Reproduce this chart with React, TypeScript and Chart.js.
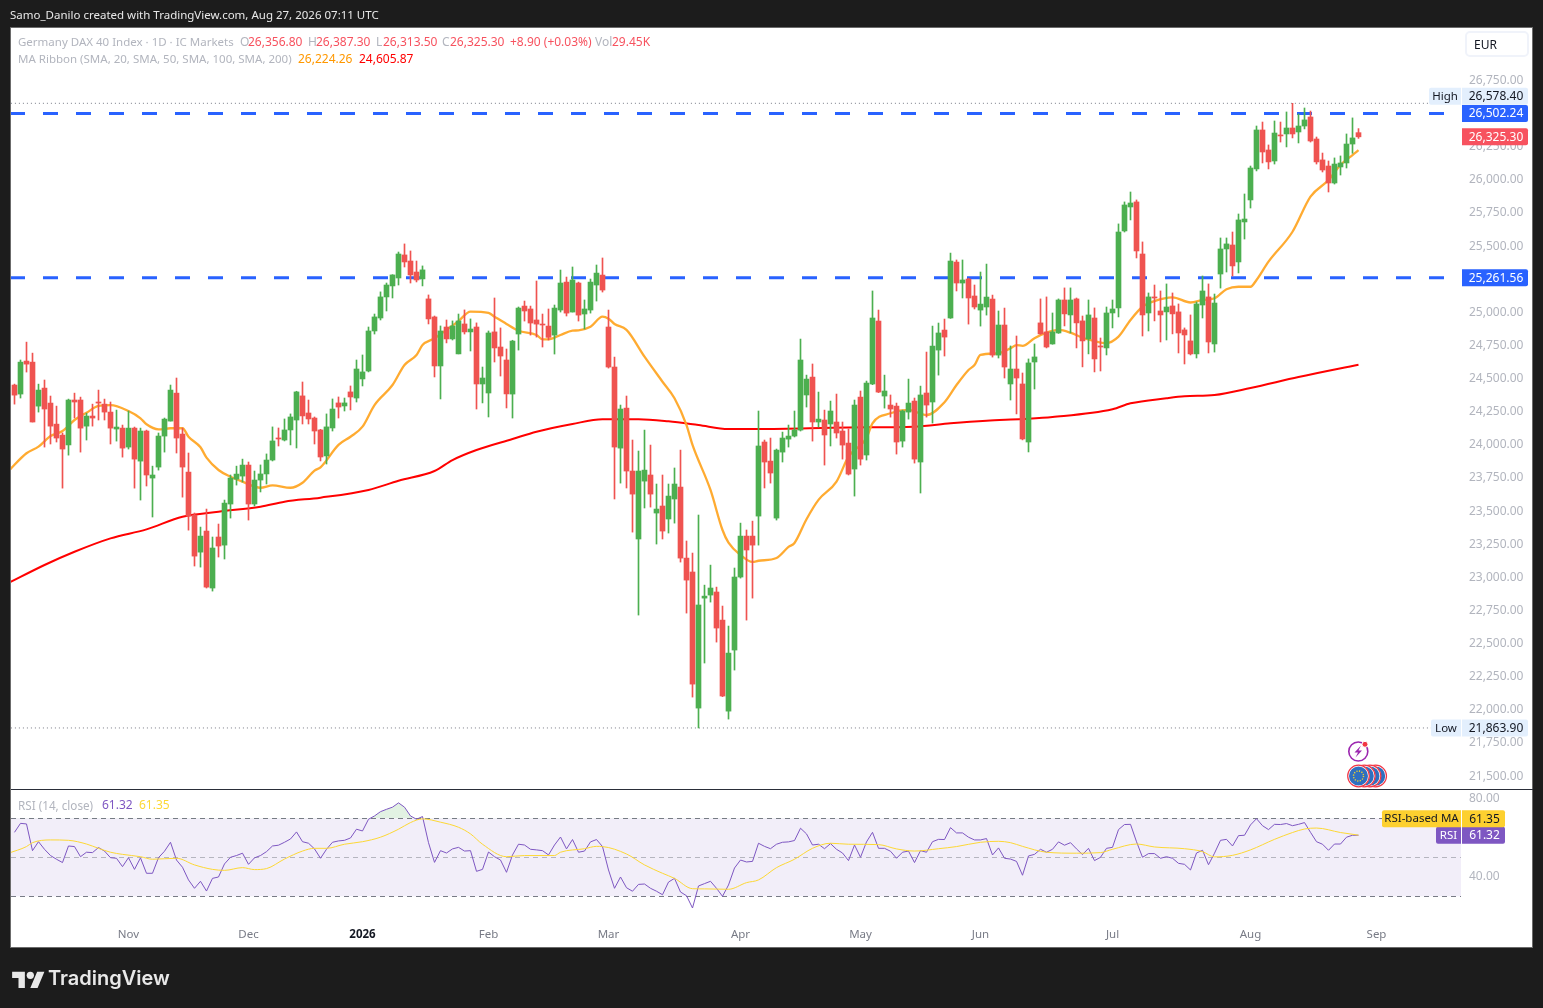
import React, { useEffect, useRef } from "react";
import { Chart, registerables } from "chart.js";

Chart.register(...registerables);

const opens = [
24452,24384,24633,24625,24293,24429,24316,24157,24074,24000,
24339,24339,24142,24218,24324,24308,24248,24120,24127,23984,
24127,23878,24105,23750,23833,24067,24180,24391,24082,23795,
23471,23191,23350,22920,23305,23244,23554,23742,23765,23848,
23554,23735,23781,23886,24052,24037,24113,24188,24370,24241,
24203,24113,23917,24128,24317,24294,24400,24354,24498,24558,
24860,24958,25117,25200,25260,25434,25388,25305,25253,25102,
24966,24596,24890,24800,24687,24913,24853,24890,24460,24392,
24853,24739,24641,24384,24837,25048,25026,24943,24912,24897,
24829,25018,25229,25003,25222,24988,25018,25207,25282,24890,
24588,23976,24278,23803,23290,23727,23773,23486,23539,23441,
23592,23682,23146,23041,22014,22844,22867,22890,22678,21991,
22452,23003,23312,23312,23463,24022,23878,23448,23946,24044,
24067,24112,24377,24512,24173,24188,24158,24173,24105,24014,
23818,24361,23924,24460,24935,24369,24301,24293,24029,24248,
24331,23871,24392,24324,24716,24867,24958,25380,25222,25252,
25124,25018,25041,25101,24678,24905,24460,24573,24460,24022,
24626,24921,24853,24762,24845,25094,24981,25102,24936,24800,
24958,24747,24732,24996,25034,25615,25796,25834,25441,24996,
25117,25011,25004,25049,25004,24868,24785,24687,25056,25117,
24762,25290,25479,25509,25381,25683,25849,26083,26377,26226,
26143,26339,26347,26392,26362,26407,26475,26309,26151,26105,
25977,26098,26128,26271,26356.8];

const highs = [
24459,24641,24776,24693,24459,24490,24369,24293,24090,24346,
24391,24361,24240,24308,24414,24346,24324,24263,24150,24256,
24135,24127,24112,23840,24090,24203,24452,24505,24127,23939,
23486,23380,23516,23305,23403,23584,23773,23840,23893,23871,
23803,23849,23932,24136,24128,24196,24234,24405,24475,24339,
24211,24118,24234,24347,24362,24354,24445,24641,24679,24890,
24988,25155,25222,25285,25456,25517,25464,25388,25351,25132,
24973,24898,24943,24936,24988,25019,24951,24921,24588,24860,
25109,24883,24724,24790,25041,25086,25048,25237,24988,25026,
25056,25320,25267,25343,25229,25094,25252,25358,25411,25018,
24663,24301,24369,24037,23954,24112,23999,23705,23773,23705,
23826,23961,23275,23184,23471,22942,23093,22927,22784,22633,
23071,23410,23358,23425,24256,24037,24052,23969,24097,24150,
24256,24799,24527,24611,24399,24263,24331,24384,24173,24120,
24339,24407,24482,25162,25018,24527,24377,24316,24263,24497,
24354,24444,24701,24897,24920,24950,25448,25396,25396,25258,
25207,25305,25365,25131,25011,25033,24747,24822,24543,24649,
24762,25102,25117,24996,25102,25185,25185,25109,24973,25094,
25034,24807,25041,25094,25668,25834,25909,25849,25532,25147,
25207,25162,25215,25147,25064,24883,24981,25079,25275,25215,
25139,25562,25562,25607,25743,25894,26105,26407,26437,26264,
26445,26437,26513,26578.4,26498,26543,26520,26324,26203,26143,
26166,26181,26347,26468,26387.3];

const lows = [
24308,24354,24550,24173,24248,23984,24007,24022,23674,23923,
24203,23946,24037,24142,24188,24188,24007,24029,23908,23969,
23674,23584,23690,23456,23810,23946,24180,23939,23606,23357,
23086,23078,22920,22897,23154,23139,23448,23697,23720,23433,
23539,23645,23705,23879,23992,24030,24000,23977,24158,24158,
24007,23879,23856,24105,24203,24256,24264,24324,24445,24551,
24837,24943,25011,25109,25207,25343,25222,25230,25200,24913,
24513,24347,24770,24792,24687,24837,24709,24271,24317,24211,
24626,24520,24279,24203,24716,24935,24829,24814,24739,24792,
24686,25003,24973,25003,24935,24875,24995,25086,25154,24580,
23592,23712,23675,23342,22716,23524,23531,23252,23290,23335,
23410,23116,22731,22097,21863.9,22354,22814,22512,22100,21931,
22301,22995,22678,22844,23244,23675,23712,23433,23871,23984,
24060,24105,24286,24029,24135,23848,23992,24052,23893,23773,
23614,23848,23886,24455,24395,24278,24210,23931,23984,24195,
23863,23637,24210,24165,24527,24671,24955,25162,25109,24912,
25026,24897,24980,24663,24656,24505,24339,24234,24038,23947,
24422,24835,24732,24760,24842,24898,24845,24732,24589,24687,
24551,24558,24679,24883,24966,25607,25698,25411,24822,24860,
24936,24777,24792,24838,24694,24611,24679,24656,24958,24694,
24701,25184,25305,25275,25298,25554,25788,26068,26128,26083,
26120,26286,26249,26317,26279,26385,26286,26120,26060,25909,
25969,26037,26090,26201,26313.5];

const closes = [
24376,24625,24610,24173,24414,24271,24142,24052,23969,24339,
24324,24127,24218,24203,24316,24248,24127,24135,23976,24127,
23893,24105,23773,23773,24067,24195,24414,24052,23833,23463,
23161,23312,22927,23222,23237,23561,23750,23780,23848,23554,
23735,23781,23886,24030,24045,24113,24211,24400,24219,24196,
24105,23909,24136,24271,24286,24317,24362,24573,24551,24860,
24966,25117,25207,25283,25441,25381,25283,25245,25321,24951,
24596,24860,24800,24898,24936,24853,24875,24460,24505,24845,
24732,24671,24385,24784,25033,25011,24920,24912,24905,24812,
25033,25222,24995,25245,24980,25026,25229,25297,25169,24588,
23984,24271,23803,23629,23803,23810,23629,23516,23350,23614,
23705,23146,22980,22195,22792,22859,22920,22618,22105,22429,
23003,23312,23207,23244,23992,23871,23788,23961,24052,24067,
24112,24641,24497,24173,24195,24075,24256,24090,23999,23780,
24301,23893,24467,24958,24399,24407,24271,24022,24256,24316,
23893,24377,24301,24746,24845,24814,25388,25222,25245,25109,
25041,25063,25116,24678,24905,24588,24573,24505,24045,24619,
24664,24838,24739,24853,25094,24989,25094,24921,24785,24981,
24649,24739,24996,25026,25607,25811,25826,25464,24981,25117,
25109,24981,25041,24989,24845,24830,24687,25064,25162,24777,
25071,25479,25517,25351,25698,25705,26090,26377,26211,26136,
26354,26332,26392,26347,26407,26453,26294,26136,26075,25977,
26120,26128,26271,26317,26325.3];

const sma20Days = [-1,2,4,6,8,10,12,14,16,19,21,22,24,26,28,29,31,32,34,36,38,41,43,46,48,50,51,54,56,58,60,63,65,67,68,70,72,74,76,79,80,82,84,87,88,89,91,93,94,96,98,99,100,102,105,108,110,112,113,116,118,119,121,123,124,127,129,130,132,134,137,139,142,143,146,149,152,155,157,159,160,161,164,166,167,168,170,172,174,176,178,180,182,184,186,188,190,193,196,198,200,202,204,206,207,209,213,216,219,221,223,224];
const sma20Values = [23803,23937,23987,24067,24105,24188,24243,24294,24301,24256,24201,24156,24118,24126,24126,24062,23982,23904,23811,23760,23723,23677,23695,23677,23715,23806,23831,24000,24062,24138,24301,24452,24603,24679,24754,24805,24868,24935,25006,24996,24968,24913,24862,24830,24797,24797,24830,24862,24865,24892,24968,24953,24913,24868,24666,24477,24352,24150,24000,23660,23358,23262,23169,23117,23126,23147,23230,23260,23439,23585,23723,23911,24052,24163,24239,24264,24226,24322,24452,24566,24603,24679,24692,24729,24754,24747,24805,24847,24868,24847,24809,24784,24769,24817,24943,25043,25086,25114,25075,25094,25107,25175,25194,25194,25245,25383,25609,25874,25999,26113,26188,26224.26];

const sma200Days = [-1,5,10,16,22,28,34,41,45,51,59,64,70,73,77,83,87,93,98,104,109,114,119,124,139,150,156,162,168,173,183,186,192,195,200,206,214,224];
const sma200Values = [22958,23094,23194,23295,23363,23458,23496,23534,23572,23602,23660,23730,23803,23886,23962,24045,24100,24158,24194,24194,24178,24150,24120,24120,24132,24138,24163,24183,24196,24211,24269,24314,24352,24367,24377,24430,24513,24605.87];

const rsiValues = [
62.8,67.4,67.1,53.4,58.0,54.1,50.9,49.0,47.3,55.8,
55.5,50.3,52.6,52.4,55.0,53.2,49.8,49.5,45.2,49.8,
43.8,49.7,41.8,41.8,49.8,53.1,57.7,48.6,44.9,38.4,
34.1,37.7,32.7,39.2,39.9,46.6,50.0,50.9,52.1,46.4,
49.7,50.9,52.9,55.8,56.2,57.7,59.4,63.0,58.0,57.2,
54.3,49.5,54.1,57.7,58.4,58.7,59.9,64.4,63.5,69.5,
71.2,73.4,74.6,75.7,77.9,75.7,71.2,69.5,70.9,57.5,
47.4,53.4,52.2,54.3,55.1,53.2,53.4,42.8,43.8,52.7,
50.3,48.6,42.3,51.2,56.7,56.3,54.1,53.8,53.4,51.2,
56.3,60.4,54.3,59.1,52.6,53.2,57.9,59.1,55.5,43.5,
34.1,39.9,34.4,32.6,36.1,36.3,34.1,32.6,30.8,37.3,
39.2,32.2,30.3,24.0,35.3,36.5,37.7,34.1,30.0,35.8,
44.5,48.6,47.6,47.9,57.2,55.6,54.4,56.7,57.7,57.9,
58.6,64.9,62.0,56.3,56.7,54.4,57.0,54.1,52.2,48.3,
56.3,50.0,57.9,62.8,54.6,54.6,53.1,49.5,52.6,53.2,
47.3,53.4,52.6,58.0,59.2,59.1,65.2,62.5,62.5,60.3,
58.9,58.9,59.6,51.2,54.8,49.5,49.1,47.9,40.8,50.7,
51.5,54.1,52.6,54.1,57.9,56.2,57.5,54.3,51.4,54.6,
48.3,50.0,54.6,55.1,64.2,66.8,66.9,58.0,50.0,51.9,
51.9,49.5,50.3,49.5,46.9,46.4,43.5,52.2,53.6,46.2,
52.1,58.7,59.2,55.8,61.1,61.3,66.6,69.8,66.2,64.2,
66.9,66.8,67.3,66.2,66.9,67.8,62.8,58.0,56.7,53.6,
56.8,56.8,60.3,61.3,61.32];

const rsiMaDays = [-1,2,3,6,9,12,14,16,18,21,23,27,30,33,35,38,40,42,45,48,50,52,55,58,61,64,66,68,71,74,76,78,82,85,90,91,95,97,98,102,105,108,110,113,115,119,122,124,127,130,133,136,139,144,147,150,154,157,161,164,166,168,172,177,181,183,187,190,195,198,200,203,206,210,213,215,217,221,224];
const rsiMaValues = [52.1,55.5,57.5,58.9,58.7,56.8,54.6,52.6,51.5,50.3,49.0,49.5,46.1,43.8,43.3,44.7,43.7,44.2,49.1,53.2,54.6,54.6,56.7,58.0,60.3,64.4,67.8,69.7,68.0,65.4,62.0,56.7,50.3,50.9,50.9,52.6,54.4,55.6,55.5,51.7,46.1,41.8,39.2,33.9,33.8,33.6,37.0,38.4,44.7,49.0,54.6,57.2,56.7,56.5,54.3,53.2,54.4,55.5,57.7,58.2,57.5,55.6,52.6,52.1,52.4,54.1,56.8,55.3,54.4,52.9,50.2,51.0,53.8,59.2,62.7,64.5,65.0,62.7,61.35];

const priceTicks = [26750,26500,26250,26000,25750,25500,25250,25000,24750,24500,24250,24000,23750,23500,23250,23000,22750,22500,22250,22000,21750,21500];
const rsiTicks = [80, 40];
const monthDays = [19,39,58,79,99,121,141,161,183,206,227];
const monthLabels = ["Nov","Dec","2026","Feb","Mar","Apr","May","Jun","Jul","Aug","Sep"];
const resistanceLevels = [26502.24, 25261.56];
const highValue = 26578.4;
const lowValue = 21863.9;
const lastClose = 26325.3;
const lastRsi = 61.32;
const lastRsiMa = 61.35;
const rsiBands = [70, 50, 30];

const FONT = '"Noto Sans", "Open Sans", sans-serif';
const UP = "#4caf50";
const DOWN = "#ef5350";
const days = opens.map((_, i) => i);
const candleColors = opens.map((o, i) => (closes[i] >= o ? UP : DOWN));
const fmt = (v: number) => v.toLocaleString("en-US", { minimumFractionDigits: 2, maximumFractionDigits: 2 });

const tag = (ctx: any, x: number, y: number, w: number, bg: string, fg: string, text: string, right = false) => {
  ctx.fillStyle = bg;
  ctx.beginPath();
  ctx.roundRect(x, y - 8.5, w, 17, right ? [0, 2, 2, 0] : [2, 0, 0, 2]);
  ctx.fill();
  ctx.fillStyle = fg;
  ctx.font = `${/[a-zA-Z]/.test(text) ? 11.5 : 12}px ${FONT}`;
  ctx.textAlign = "center";
  ctx.textBaseline = "middle";
  ctx.fillText(text, x + w / 2 + (right ? 1 : 0), y + 0.5);
};

const panelPlugin = {
  id: "panel",
  beforeDraw(chart: any) {
    const { ctx } = chart;
    ctx.save();
    ctx.fillStyle = "#ffffff";
    ctx.fillRect(11, 28, 1522, 919);
    ctx.strokeStyle = "#6b6b6b";
    ctx.lineWidth = 1;
    ctx.strokeRect(10.5, 27.5, 1522, 920);
    ctx.restore();
  },
  beforeDatasetsDraw(chart: any) {
    const { ctx, chartArea } = chart;
    const r = chart.scales.rsi;
    ctx.save();
    ctx.fillStyle = "rgba(126,87,194,0.1)";
    ctx.fillRect(chartArea.left, r.getPixelForValue(70), chartArea.width, r.getPixelForValue(30) - r.getPixelForValue(70));
    rsiBands.forEach((b) => {
      const y = Math.round(r.getPixelForValue(b)) + 0.5;
      ctx.strokeStyle = b === 50 ? "rgba(120,123,134,0.5)" : "#787b86";
      ctx.setLineDash([5, 4]);
      ctx.lineWidth = 1;
      ctx.beginPath();
      ctx.moveTo(chartArea.left, y);
      ctx.lineTo(chartArea.right, y);
      ctx.stroke();
    });
    ctx.restore();
  },
  afterDraw(chart: any) {
    const { ctx } = chart;
    const p = chart.scales.y;
    const r = chart.scales.rsi;
    ctx.save();
    ctx.fillStyle = "#2a2e39";
    ctx.fillRect(11, 789, 1522, 1);
    const X = 1462;
    const W = 66;
    const highY = p.getPixelForValue(highValue) - 7;
    tag(ctx, 1429, highY, 32, "#e3effd", "#131722", "High");
    tag(ctx, X, highY, W, "#e3effd", "#131722", fmt(highValue), true);
    resistanceLevels.forEach((v) => tag(ctx, X, p.getPixelForValue(v), W, "#2962ff", "#ffffff", fmt(v), true));
    tag(ctx, X, p.getPixelForValue(lastClose), W, "#f7525f", "#ffffff", fmt(lastClose), true);
    const lowY = p.getPixelForValue(lowValue);
    tag(ctx, 1431, lowY, 30, "#e3effd", "#131722", "Low");
    tag(ctx, X, lowY, W, "#e3effd", "#131722", fmt(lowValue), true);
    const rsiY = r.getPixelForValue(lastRsi);
    tag(ctx, 1436, rsiY, 25, "#7e57c2", "#ffffff", "RSI");
    tag(ctx, X, rsiY, 43, "#7e57c2", "#ffffff", lastRsi.toFixed(2), true);
    tag(ctx, 1382, rsiY - 16.5, 79, "#fdd02f", "#131722", "RSI-based MA");
    tag(ctx, X, rsiY - 16.5, 43, "#fdd02f", "#131722", lastRsiMa.toFixed(2), true);
    ctx.restore();
  },
};

const Txt = ({ x, y, c, children, size = 12 }: any) => (
  <span style={{ position: "absolute", left: x, top: y - 8, lineHeight: "18px", fontSize: size, fontFamily: FONT, color: c, whiteSpace: "nowrap" }}>{children}</span>
);

export default function App() {
  const ref = useRef<HTMLCanvasElement>(null);
  useEffect(() => {
    const line = (data: any[], color: string, width: number, order: number, axis: string, extra: any = {}) => ({
      type: "line", data, borderColor: color, borderWidth: width, order, yAxisID: axis, xAxisID: "x",
      pointRadius: 0, pointHoverRadius: 0, fill: false, ...extra,
    });
    const level = (v: number, color: string, dash: number[], w: number, x0: number, x1: number) =>
      line([{ x: x0, y: v }, { x: x1, y: v }], color, w, 7, "y", { borderDash: dash });
    const noGrid = { display: false, drawTicks: false, tickLength: 0 };
    const chart = new Chart(ref.current as any, {
      type: "bar",
      data: {
        datasets: [
          ...resistanceLevels.map((v) => level(v, "#2962ff", [15, 18], 3, -0.75, 238.45)),
          level(highValue, "#787b86", [1, 3], 1, -0.6, 235.75),
          level(lowValue, "#787b86", [1, 3], 1, -0.6, 236.1),
          line(sma20Days.map((x, i) => ({ x, y: sma20Values[i] })), "rgba(255,167,38,0.95)", 2.3, 5, "y", { cubicInterpolationMode: "monotone" }),
          line(sma200Days.map((x, i) => ({ x, y: sma200Values[i] })), "#ff0000", 2, 5, "y", { cubicInterpolationMode: "monotone" }),
          { type: "bar", data: days.map((x) => ({ x, y: [lows[x], highs[x]] })), backgroundColor: candleColors, barThickness: 1, grouped: false, order: 3, yAxisID: "y", xAxisID: "x" },
          { type: "bar", data: days.map((x) => ({ x, y: [opens[x], closes[x]] })), backgroundColor: candleColors, barThickness: 5, minBarLength: 1, grouped: false, order: 2, yAxisID: "y", xAxisID: "x" },
          line(days.map((x) => ({ x, y: rsiValues[x] })), "#7e57c2", 1, 6, "rsi", { fill: { target: { value: 70 }, above: "rgba(76,175,80,0.16)", below: "transparent" } }),
          line(rsiMaDays.map((x, i) => ({ x, y: rsiMaValues[i] })), "#fdd835", 1, 1, "rsi", { cubicInterpolationMode: "monotone" }),
        ] as any,
      },
      options: {
        responsive: false,
        animation: false,
        layout: { padding: { left: 11, top: 28, right: 10, bottom: 61 } },
        plugins: { legend: { display: false }, tooltip: { enabled: false } },
        events: [],
        scales: {
          x: {
            type: "linear", position: "bottom", offset: false, bounds: "data",
            min: -0.58333, max: 241.08333,
            grid: noGrid, border: { display: false },
            afterBuildTicks: (s: any) => { s.ticks = monthDays.map((value) => ({ value })); },
            afterFit: (s: any) => { s.height = 27; },
            ticks: {
              autoSkip: false, maxRotation: 0, padding: 8,
              callback: (v: any) => monthLabels[monthDays.indexOf(v)] ?? "",
              color: (c: any) => (c.tick?.value === 58 ? "#131722" : "#787b86"),
              font: (c: any) => ({ family: FONT, size: 11.5, weight: c.tick?.value === 58 ? "bold" : "normal" }),
            },
          },
          y: {
            type: "linear", axis: "y", position: "right", stack: "panes", stackWeight: 762, bounds: "data",
            min: 21395.7, max: 27146.7,
            grid: noGrid, border: { display: false },
            afterBuildTicks: (s: any) => { s.ticks = priceTicks.map((value) => ({ value })); },
            afterFit: (s: any) => { s.width = 72; },
            ticks: { autoSkip: false, padding: 8, color: "#b2b5be", font: { family: FONT, size: 12 }, callback: (v: any) => fmt(v) },
          },
          rsi: {
            type: "linear", axis: "y", position: "right", stack: "panes", stackWeight: 130, bounds: "data",
            min: 17.85, max: 84.5,
            grid: noGrid, border: { display: false },
            afterBuildTicks: (s: any) => { s.ticks = rsiTicks.map((value) => ({ value })); },
            afterFit: (s: any) => { s.width = 72; },
            ticks: { autoSkip: false, padding: 8, color: "#b2b5be", font: { family: FONT, size: 12 }, callback: (v: any) => Number(v).toFixed(2) },
          },
        },
      } as any,
      plugins: [panelPlugin],
    });
    return () => chart.destroy();
  }, []);

  const g = "#b2b5be";
  const red = "#f7525f";
  return (
    <div style={{ position: "fixed", left: 0, top: 0, width: 1543, height: 1008, background: "#1c1c1c", overflow: "hidden" }}>
      <canvas ref={ref} width={1543} height={1008} style={{ position: "absolute", left: 0, top: 0, width: 1543, height: 1008, display: "block" }} />
      <Txt x={10} y={14} c="#e8e8e8" size={11.5}>Samo_Danilo created with TradingView.com, Aug 27, 2026 07:11 UTC</Txt>
      <Txt x={18} y={41} c={g} size={11.5}>Germany DAX 40 Index · 1D · IC Markets</Txt>
      <Txt x={240} y={41} c={g}>O</Txt><Txt x={248} y={41} c={red}>26,356.80</Txt>
      <Txt x={308} y={41} c={g}>H</Txt><Txt x={316} y={41} c={red}>26,387.30</Txt>
      <Txt x={376} y={41} c={g}>L</Txt><Txt x={383} y={41} c={red}>26,313.50</Txt>
      <Txt x={442} y={41} c={g}>C</Txt><Txt x={450} y={41} c={red}>26,325.30</Txt>
      <Txt x={510} y={41} c={red}>+8.90 (+0.03%)</Txt>
      <Txt x={595} y={41} c={g}>Vol</Txt><Txt x={612} y={41} c={red}>29.45K</Txt>
      <Txt x={18} y={58} c={g} size={11.5}>MA Ribbon (SMA, 20, SMA, 50, SMA, 100, SMA, 200)</Txt>
      <Txt x={298} y={58} c="#ff9800">26,224.26</Txt>
      <Txt x={359} y={58} c="#ff0000">24,605.87</Txt>
      <Txt x={18} y={804} c={g} size={11.7}>RSI (14, close)</Txt>
      <Txt x={102} y={804} c="#7e57c2">61.32</Txt>
      <Txt x={139} y={804} c="#fdd835">61.35</Txt>
      <div style={{ position: "absolute", left: 1465, top: 31, width: 64, height: 26, boxSizing: "border-box", border: "2px solid #f0f3fa", borderRadius: 5 }} />
      <Txt x={1474} y={44} c="#131722">EUR</Txt>
      <svg style={{ position: "absolute", left: 1340, top: 735, overflow: "visible" }} width={60} height={60}>
        <circle cx={18.3} cy={16.5} r={9.5} fill="#fff" stroke="#9c27b0" strokeWidth={1.6} />
        <path d="M21 10.5 L14.5 17.5 H18 L15.5 22.5 L22 15.5 H18.5 Z" fill="#9c27b0" />
        <circle cx={25} cy={9.3} r={3} fill="#f23645" stroke="#fff" strokeWidth={1} />
        {[35.7, 30, 24.3, 18.5].map((cx) => (
          <g key={cx}>
            <circle cx={cx} cy={41} r={10.3} fill="#2f6fc0" stroke="#fff" strokeWidth={1.6} />
            <circle cx={cx} cy={41} r={10.8} fill="none" stroke="#f23645" strokeWidth={1.2} />
          </g>
        ))}
        <circle cx={18.5} cy={41} r={5} fill="none" stroke="#f5d327" strokeWidth={1.4} strokeDasharray="1.2 1.4" />
      </svg>
      <svg style={{ position: "absolute", left: 12, top: 968 }} width={33} height={20} viewBox="0 0 36 22">
        <path fill="#e8e8e8" d="M14 22H7V11H0V4h14v18zM28 22h-8l7.5-18h8L28 22z" />
        <circle fill="#e8e8e8" cx={20} cy={8} r={4} />
      </svg>
      <span style={{ position: "absolute", left: 48, top: 964, lineHeight: "28px", fontSize: 20, fontWeight: 600, fontFamily: '"Inter", sans-serif', color: "#e8e8e8", whiteSpace: "nowrap" }}>TradingView</span>
    </div>
  );
}
